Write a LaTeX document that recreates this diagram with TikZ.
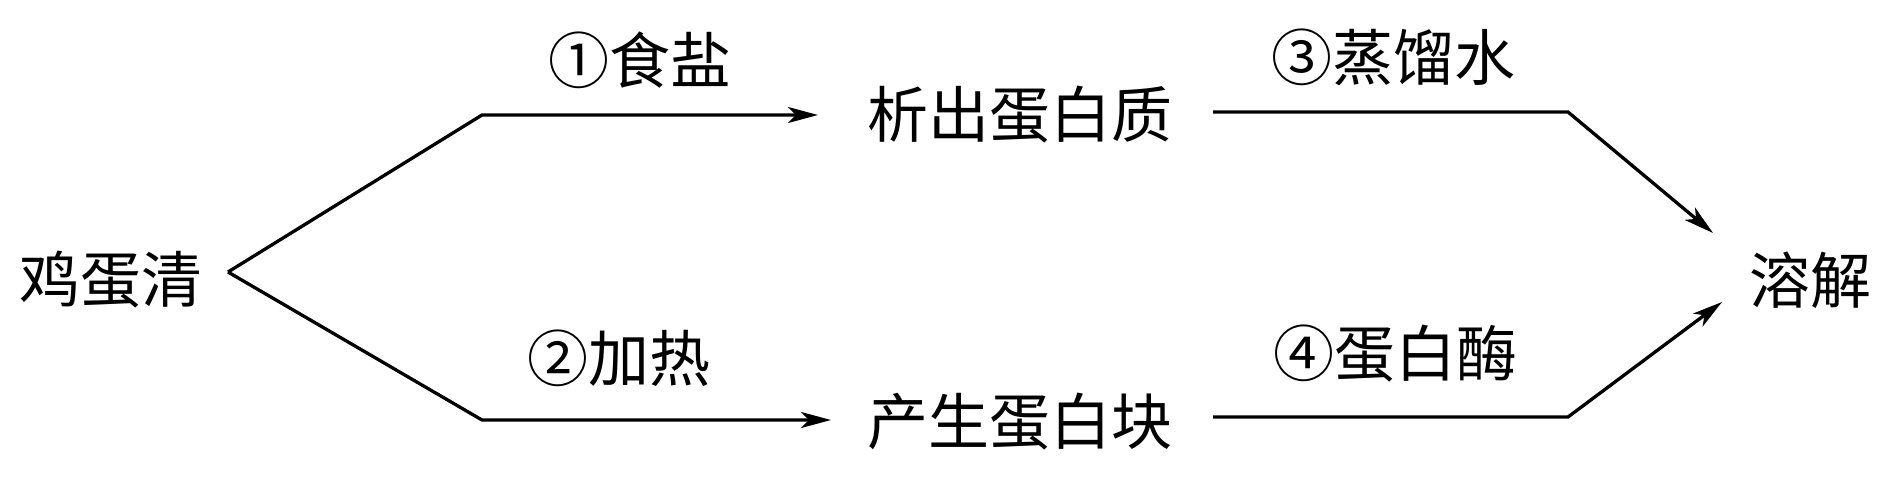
\documentclass[tikz,border=0pt]{standalone}
\usepackage{fontspec}
\setmainfont{Noto Sans CJK SC}
\usetikzlibrary{arrows.meta}
\begin{document}
\begin{tikzpicture}[x=1pt,y=-1pt,
  lbl/.style={font=\fontsize{61}{63}\selectfont, inner sep=0pt},
  ln/.style={line width=3.3pt, line join=miter},
  arr/.style={ln, -{Stealth[length=30pt,width=16pt,inset=8pt]}}]
\useasboundingbox (0,0) rectangle (1890,483);
% text nodes
\node[lbl] (egg) at (111,280) {鸡蛋清};
\node[lbl] (precip) at (1020,115) {析出蛋白质};
\node[lbl] (clot) at (1020,422) {产生蛋白块};
\node[lbl] (dissolve) at (1810,280) {溶解};
\node[lbl] (l1) at (640,60) {①食盐};
\node[lbl] (l2) at (619,358) {②加热};
\node[lbl] (l3) at (1393,57) {③蒸馏水};
\node[lbl] (l4) at (1395,353) {④蛋白酶};
% connector points
\coordinate (v) at (228,272);
\coordinate (a1) at (482,115);
\coordinate (t1) at (818,115);
\coordinate (a2) at (482,420);
\coordinate (t2) at (831,420);
\coordinate (s3) at (1213,112);
\coordinate (c3) at (1568,112);
\coordinate (t3) at (1713,233);
\coordinate (s4) at (1213,417);
\coordinate (c4) at (1568,417);
\coordinate (t4) at (1722,302);
% connectors
\draw[arr] (v) -- (a1) -- (t1);
\draw[arr] (v) -- (a2) -- (t2);
\draw[arr] (s3) -- (c3) -- (t3);
\draw[arr] (s4) -- (c4) -- (t4);
\end{tikzpicture}
\end{document}
